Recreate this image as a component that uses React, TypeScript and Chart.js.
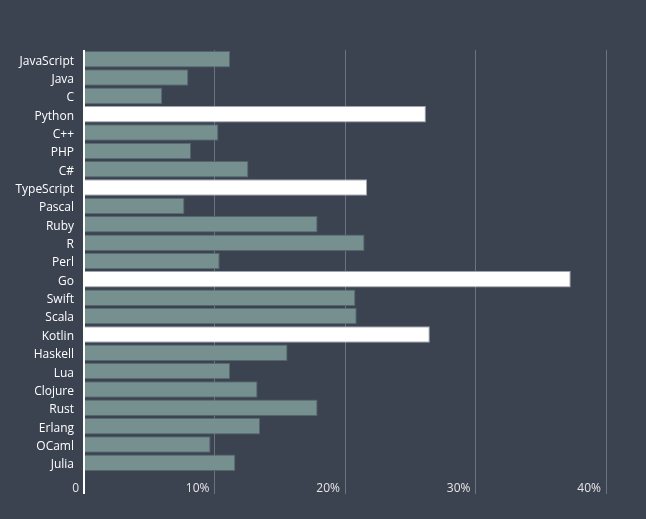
import React, { useEffect, useRef } from "react";
import { Chart, registerables } from "chart.js";

Chart.register(...registerables);

const categories = [
  "JavaScript", "Java", "C", "Python", "C++", "PHP", "C#", "TypeScript",
  "Pascal", "Ruby", "R", "Perl", "Go", "Swift", "Scala", "Kotlin",
  "Haskell", "Lua", "Clojure", "Rust", "Erlang", "OCaml", "Julia",
];
const values = [
  11.2, 8.0, 6.0, 26.2, 10.3, 8.2, 12.6, 21.7,
  7.7, 17.9, 21.5, 10.4, 37.3, 20.8, 20.9, 26.5,
  15.6, 11.2, 13.3, 17.9, 13.5, 9.7, 11.6,
];
const highlighted = ["Python", "TypeScript", "Go", "Kotlin"];
const xTicks = [0, 10, 20, 30, 40];
const xTickLabels = ["0", "10%", "20%", "30%", "40%"];

const BG = "#3b4250";
const BAR = "#76908f";
const BAR_BORDER = "#56656c";
const HI = "#ffffff";
const HI_BORDER = "#9fa4ad";
const GRID = "#6b7282";
const FONT = "'Open Sans', sans-serif";

export default function App() {
  const ref = useRef<HTMLCanvasElement | null>(null);

  useEffect(() => {
    if (!ref.current) return;
    const isHi = (i: number) => highlighted.includes(categories[i]);
    const chart = new Chart(ref.current, {
      type: "bar",
      data: {
        labels: categories,
        datasets: [
          {
            data: values,
            backgroundColor: categories.map((_, i) => (isHi(i) ? HI : BAR)),
            borderColor: categories.map((_, i) => (isHi(i) ? HI_BORDER : BAR_BORDER)),
            borderWidth: 1,
            categoryPercentage: 0.9,
            barPercentage: 1,
          },
        ],
      },
      options: {
        indexAxis: "y",
        animation: false,
        responsive: false,
        maintainAspectRatio: false,
        layout: { padding: { top: 50, right: 40, left: 0, bottom: 0 } },
        plugins: { legend: { display: false }, tooltip: { enabled: false } },
        scales: {
          x: {
            min: xTicks[0],
            max: xTicks[xTicks.length - 1],
            border: { display: false },
            grid: {
              color: (ctx: any) => (ctx.tick && ctx.tick.value === 0 ? "#ffffff" : GRID),
              lineWidth: (ctx: any) => (ctx.tick && ctx.tick.value === 0 ? 2 : 1),
              tickLength: 22,
            },
            afterFit: (scale: any) => {
              scale.height = 47;
            },
            ticks: {
              stepSize: 10,
              align: "end",
              padding: -13,
              labelOffset: -5,
              color: "#e6e6e6",
              font: { family: FONT, size: 12 },
              callback: (v: any) => {
                const k = xTicks.indexOf(Number(v));
                return k >= 0 ? xTickLabels[k] : "";
              },
            },
          },
          y: {
            border: { display: false },
            grid: { display: false, drawTicks: false },
            afterFit: (scale: any) => {
              scale.width = 84;
            },
            ticks: {
              padding: 10,
              labelOffset: 2,
              color: "#ffffff",
              font: { family: FONT, size: 12 },
              autoSkip: false,
            },
          },
        },
      },
    });
    return () => chart.destroy();
  }, []);

  return (
    <div style={{ position: "absolute", left: 0, top: 0, width: 646, height: 519, background: BG }}>
      <canvas ref={ref} width={646} height={519} style={{ width: 646, height: 519, display: "block" }} />
    </div>
  );
}
